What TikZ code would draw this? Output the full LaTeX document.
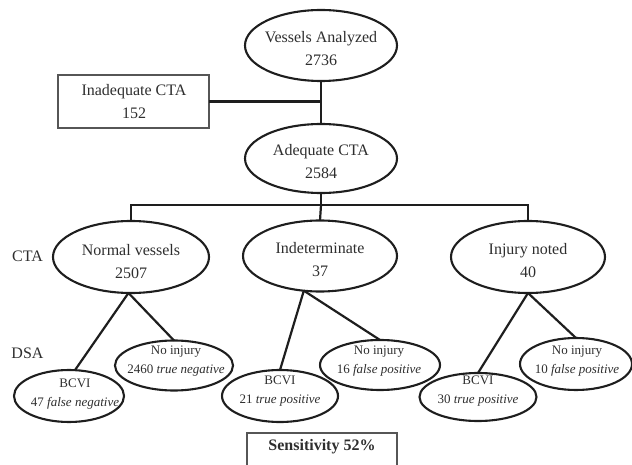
\documentclass[tikz,border=0pt]{standalone}
\usepackage{fontspec}
\setmainfont{Liberation Serif}
\usetikzlibrary{shapes.geometric}
\definecolor{ink}{HTML}{1E1E1E}
\definecolor{txt}{HTML}{2E2E2E}
\begin{document}
\begin{tikzpicture}[x=1pt,y=-1pt,
  oval/.style={ellipse, draw=ink, line width=2.1pt, inner sep=0pt, outer sep=0pt},
  big/.style={font=\fontsize{16}{23}\selectfont, text=txt, align=center, inner sep=0pt},
  small/.style={font=\fontsize{13}{19}\selectfont, text=txt, align=center, inner sep=0pt},
  link/.style={draw=ink, line width=2.2pt},
  frame/.style={draw=ink!75, line width=1.1pt, rectangle, inner sep=0pt, outer sep=0pt}]
\useasboundingbox (0,0) rectangle (632,465);

% top level
\node[oval, minimum width=152pt, minimum height=71pt] (va) at (321,45.5) {};
\node[big] (vat) at (321,48.3) {Vessels Analyzed\\2736};

\node[frame, minimum width=151pt, minimum height=53pt] (inad) at (133.5,101.5) {};
\node[big] (inadt) at (134,102) {Inadequate CTA\\152};

\node[oval, minimum width=152pt, minimum height=69pt] (ad) at (321,158.5) {};
\node[big] (adt) at (321,162) {Adequate CTA\\2584};

% CTA level
\node[oval, minimum width=156pt, minimum height=72pt] (nv) at (131,257) {};
\node[big] (nvt) at (131,261.5) {Normal vessels\\2507};

\node[oval, minimum width=154pt, minimum height=71pt] (ind) at (320,256) {};
\node[big] (indt) at (320,260) {Indeterminate\\37};

\node[oval, minimum width=154pt, minimum height=72pt] (inj) at (528,257) {};
\node[big] (injt) at (528,260.5) {Injury noted\\40};

% row labels
\node[big] (cta) at (27.5,256) {CTA};
\node[big] (dsa) at (27.5,353) {DSA};

% DSA level
\node[oval, minimum width=110pt, minimum height=52pt] (nvb) at (69,396) {};
\node[small] (nvbt) at (75,394) {BCVI\\47 \textit{false negative}};

\node[oval, minimum width=118pt, minimum height=50pt] (nvn) at (174,365.5) {};
\node[small] (nvnt) at (176,361.5) {No injury\\2460 \textit{true negative}};

\node[oval, minimum width=116pt, minimum height=52pt] (indb) at (280,396) {};
\node[small] (indbt) at (280,391.5) {BCVI\\21 \textit{true positive}};

\node[oval, minimum width=120pt, minimum height=50pt] (indn) at (380,365) {};
\node[small] (indnt) at (379,361.5) {No injury\\16 \textit{false positive}};

\node[oval, minimum width=117pt, minimum height=48pt] (injb) at (478,397) {};
\node[small] (injbt) at (478,391.5) {BCVI\\30 \textit{true positive}};

\node[oval, minimum width=112pt, minimum height=52pt] (injn) at (576,364) {};
\node[small] (injnt) at (577,361) {No injury\\10 \textit{false positive}};

% sensitivity
\node[frame, minimum width=150pt, minimum height=40pt, anchor=north] (sens) at (322,433) {};
\node[font=\bfseries\fontsize{16}{20}\selectfont, text=txt, inner sep=0pt] (senst) at (322,447) {Sensitivity 52\%};

% connectors
\draw[link] (va.south) -- (ad.north);
\draw[link] (inad.east) -- (inad.east -| va.south);
\coordinate (bar) at (321,205);
\draw[link] (ad.south) -- (bar);
\draw[link] (nv.north) |- (bar) -| (inj.north);
\draw[link] (bar) -- (ind.north);

\draw[link] (nv.266) -- (nvb.77);
\draw[link] (nv.266) -- (nvn.north);
\draw[link] (ind.245) -- (indb.north);
\draw[link] (ind.245) -- (indn.north);
\draw[link] (inj.south) -- (injb.north);
\draw[link] (inj.south) -- (injn.north);
\end{tikzpicture}
\end{document}
